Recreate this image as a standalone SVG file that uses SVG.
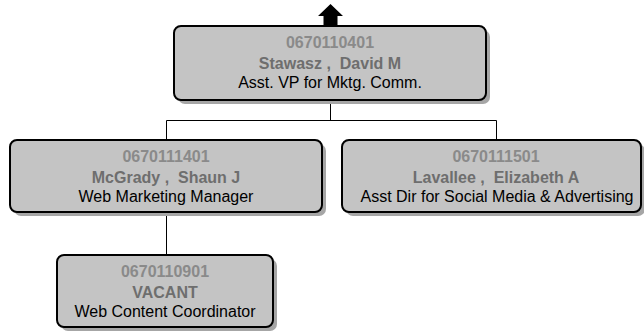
<svg xmlns="http://www.w3.org/2000/svg" width="644" height="333" viewBox="0 0 644 333">
  <style>
    .shadow { fill: #a6a6a6; }
    .box { fill: #c4c4c4; stroke: #000; stroke-width: 2; }
    .id { font-family: "Liberation Sans", Arial, sans-serif; font-size: 16px; font-weight: bold; fill: #8a8a8a; text-anchor: middle; }
    .name { font-family: "Liberation Sans", Arial, sans-serif; font-size: 16px; font-weight: bold; fill: #6e6e6e; text-anchor: middle; }
    .title { font-family: "Liberation Sans", Arial, sans-serif; font-size: 16px; fill: #000; text-anchor: middle; }
    .wire { fill: none; stroke: #000; stroke-width: 1; }
  </style>

  <!-- reporting lines -->
  <g id="connectors">
    <polyline class="wire" points="330.5,100 330.5,120.5"/>
    <polyline class="wire" points="166.5,140 166.5,120.5 496.5,120.5 496.5,140"/>
    <polyline class="wire" points="166.5,212 166.5,255"/>
    <polygon points="330.5,4 343,16 337.5,16 337.5,26 323.5,26 323.5,16 318,16" fill="#000"/>
  </g>

  <g id="node-0670110401">
    <rect class="shadow" x="178" y="30" width="312" height="74" rx="7"/>
    <rect class="box" x="174" y="26" width="312" height="74" rx="7"/>
    <text class="id" x="330" y="47.5">0670110401</text>
    <text class="name" x="330" y="68.5" xml:space="preserve">Stawasz ,  David M</text>
    <text class="title" x="330" y="88">Asst. VP for Mktg. Comm.</text>
  </g>

  <g id="node-0670111401">
    <rect class="shadow" x="14" y="144" width="312" height="72" rx="7"/>
    <rect class="box" x="10" y="140" width="312" height="72" rx="7"/>
    <text class="id" x="166" y="161.5">0670111401</text>
    <text class="name" x="166" y="182.5" xml:space="preserve">McGrady ,  Shaun J</text>
    <text class="title" x="166" y="202">Web Marketing Manager</text>
  </g>

  <g id="node-0670111501">
    <rect class="shadow" x="346" y="144" width="299" height="72" rx="7"/>
    <rect class="box" x="342" y="140" width="299" height="72" rx="7"/>
    <text class="id" x="496" y="161.5">0670111501</text>
    <text class="name" x="496" y="182.5" xml:space="preserve">Lavallee ,  Elizabeth A</text>
    <text class="title" x="497" y="202">Asst Dir for Social Media &amp; Advertising</text>
  </g>

  <g id="node-0670110901">
    <rect class="shadow" x="61" y="259" width="216" height="72" rx="7"/>
    <rect class="box" x="57" y="255" width="216" height="72" rx="7"/>
    <text class="id" x="165" y="276.5">0670110901</text>
    <text class="name" x="165" y="297.5">VACANT</text>
    <text class="title" x="165" y="317">Web Content Coordinator</text>
  </g>
</svg>
